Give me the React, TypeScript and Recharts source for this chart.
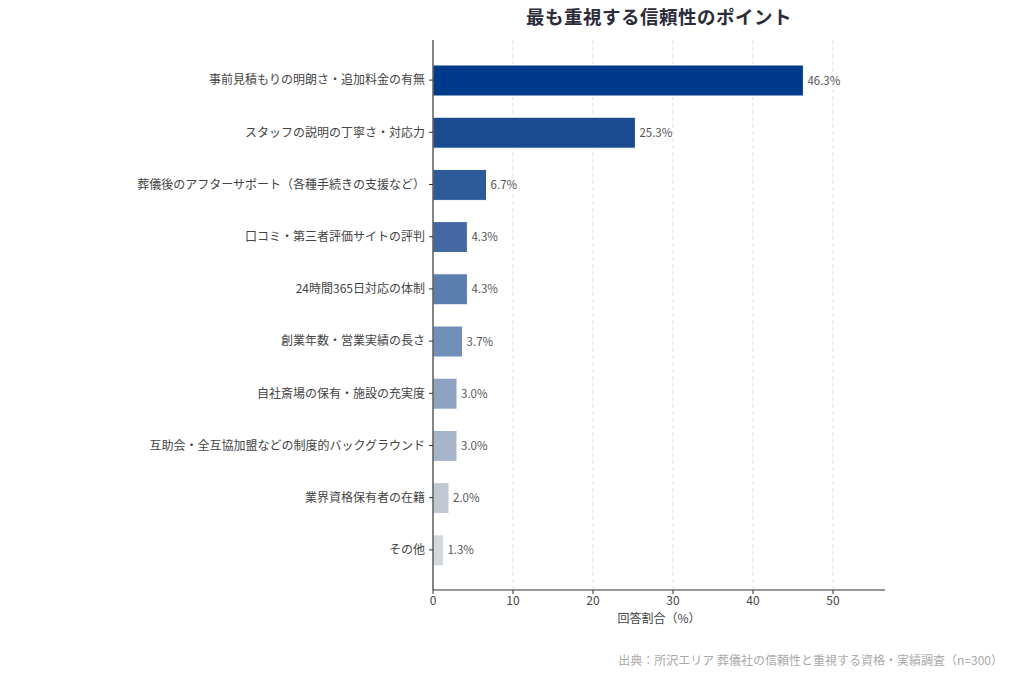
import { BarChart, Bar, XAxis, YAxis, CartesianGrid, Cell, LabelList } from 'recharts';

const categories = [
  '事前見積もりの明朗さ・追加料金の有無',
  'スタッフの説明の丁寧さ・対応力',
  '葬儀後のアフターサポート（各種手続きの支援など）',
  '口コミ・第三者評価サイトの評判',
  '24時間365日対応の体制',
  '創業年数・営業実績の長さ',
  '自社斎場の保有・施設の充実度',
  '互助会・全互協加盟などの制度的バックグラウンド',
  '業界資格保有者の在籍',
  'その他',
];

const shares = [46.3, 25.3, 6.7, 4.3, 4.3, 3.7, 3.0, 3.0, 2.0, 1.3];

// dark navy fading to pale grey
const barColors = [
  '#003a8b',
  '#1a4a90',
  '#2d5a99',
  '#4469a2',
  '#5a7eae',
  '#7190b9',
  '#8ea3c1',
  '#a6b5c9',
  '#bfc8d3',
  '#d3d8dd',
];

const xTicks = [0, 10, 20, 30, 40, 50];
const gridValues = [10, 20, 30, 40, 50];

const FONT = '"Noto Sans CJK JP", "Noto Sans", sans-serif';

export default function App() {
  const data = categories.map((name, i) => ({ name, value: shares[i] }));

  return (
    <div style={{ position: 'absolute', left: 0, top: 0, width: 1024, height: 683, background: '#fff', fontFamily: FONT }}>
      <div
        style={{
          position: 'absolute',
          left: 433,
          width: 452,
          top: 3,
          textAlign: 'center',
          fontSize: 18.5,
          fontWeight: 700,
          color: '#2b2b3a',
          letterSpacing: 0.5,
        }}
      >
        最も重視する信頼性のポイント
      </div>
      <BarChart
        width={1024}
        height={683}
        data={data}
        layout="vertical"
        margin={{ top: 40, right: 139, left: 0, bottom: 53 }}
        barCategoryGap={0}
      >
        <CartesianGrid
          horizontal={false}
          verticalValues={gridValues}
          stroke="#e0e0e0"
          strokeDasharray="4 3"
        />
        <XAxis
          type="number"
          domain={[0, 56.5]}
          ticks={xTicks}
          allowDataOverflow
          height={40}
          tick={{ fill: '#444', fontSize: 12, fontFamily: FONT }}
          axisLine={{ stroke: '#333', strokeWidth: 1.2 }}
          tickLine={{ stroke: '#333' }}
          tickSize={4}
          label={{ value: '回答割合（%）', position: 'insideBottom', offset: 7, fill: '#444', fontSize: 12, fontFamily: FONT }}
        />
        <YAxis
          type="category"
          dataKey="name"
          width={433}
          interval={0}
          padding={{ top: 14, bottom: 14 }}
          tick={{ fill: '#444', fontSize: 12, fontFamily: FONT }}
          axisLine={{ stroke: '#333', strokeWidth: 1.2 }}
          tickLine={{ stroke: '#333' }}
          tickSize={4}
          tickMargin={4}
        />
        <Bar dataKey="value" barSize={31} stroke="#fff" strokeWidth={1} isAnimationActive={false}>
          {data.map((entry, i) => (
            <Cell key={entry.name} fill={barColors[i]} />
          ))}
          <LabelList
            dataKey="value"
            position="right"
            offset={4}
            formatter={(v: number) => `${v.toFixed(1)}%`}
            style={{ fill: '#555', fontSize: 11.5, fontFamily: FONT }}
          />
        </Bar>
      </BarChart>
      <div
        style={{
          position: 'absolute',
          right: 21,
          top: 651,
          fontSize: 12,
          color: '#aaa',
          whiteSpace: 'nowrap',
        }}
      >
        出典：所沢エリア 葬儀社の信頼性と重視する資格・実績調査（n=300）
      </div>
    </div>
  );
}
